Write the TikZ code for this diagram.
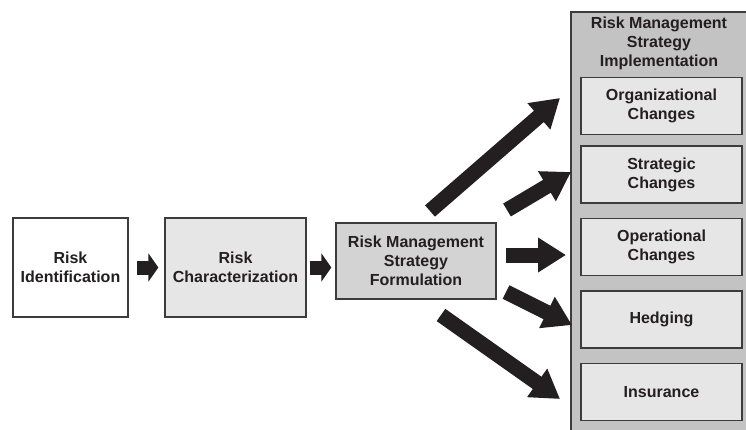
\documentclass[tikz,border=0pt]{standalone}
\usepackage{fontspec}
\setmainfont{Liberation Sans}
\usetikzlibrary{arrows.meta}

\definecolor{ink}{HTML}{231F20}
\definecolor{edgeg}{HTML}{3C3C3C}
\definecolor{paleg}{HTML}{E6E6E6}
\definecolor{midg}{HTML}{D3D3D3}
\definecolor{darkg}{HTML}{C3C3C3}

\tikzset{
	stage/.style={draw=edgeg, line width=1.3pt, text=ink, align=center, inner sep=0pt,
		font=\bfseries\fontsize{16}{19}\selectfont},
	option/.style={stage, fill=paleg, minimum width=161pt, minimum height=57pt},
	smallarrow/.style={draw=ink, line width=14pt, -{Triangle[length=10pt,width=28pt]}},
	bigarrow/.style={draw=ink, line width=15pt, -{Triangle[length=28pt,width=33pt]}}
}

\begin{document}
\begin{tikzpicture}[x=1pt,y=-1pt]
	\useasboundingbox (0,0) rectangle (746,430);
	
	\node[stage, fill=white, minimum width=115pt, minimum height=99pt] (ident) at (70.5, 267.5) {Risk\\Identification};
	\node[stage, fill=paleg, minimum width=141pt, minimum height=99pt] (charac) at (235.5, 267.5) {Risk\\Characterization};
	\node[stage, fill=midg, minimum width=160pt, minimum height=76pt] (form) at (416, 261) {Risk Management\\Strategy\\Formulation};
	
	% implementation column
	\draw[draw=edgeg, line width=1.3pt, fill=darkg] (571,12) rectangle (760,440);
	\node[text=ink, align=center, font=\bfseries\fontsize{16}{19}\selectfont] (impl) at (659, 43) {Risk Management\\Strategy\\Implementation};
	
	\node[option] (org) at (661.5, 106)   {Organizational\\Changes};
	\node[option] (strat) at (661.5, 174.5) {Strategic\\Changes};
	\node[option] (oper) at (661.5, 247)  {Operational\\Changes};
	\node[option] (hedge) at (661.5, 319.5) {Hedging};
	\node[option] (insur) at (661.5, 392) {Insurance};
	
	\coordinate (ta) at (430, 211);   \coordinate (ha) at (560, 98);
	\coordinate (tb) at (507, 210);   \coordinate (hb) at (571, 172);
	\coordinate (tc) at (506, 255);   \coordinate (hc) at (566, 255);
	\coordinate (td) at (506, 292);   \coordinate (hd) at (572, 325);
	\coordinate (te) at (441, 315);   \coordinate (he) at (560, 399);
	
	\draw[smallarrow, shorten <=8pt, shorten >=6pt] (ident.east) -- (charac.west);
	\draw[smallarrow, shorten <=3pt, shorten >=4pt] (charac.east) -- (charac.east -| form.west);
	
	\draw[bigarrow] (ta) -- (ha);
	\draw[bigarrow] (tb) -- (hb);
	\draw[bigarrow] (tc) -- (hc);
	\draw[bigarrow] (td) -- (hd);
	\draw[bigarrow] (te) -- (he);

\end{tikzpicture}
\end{document}
